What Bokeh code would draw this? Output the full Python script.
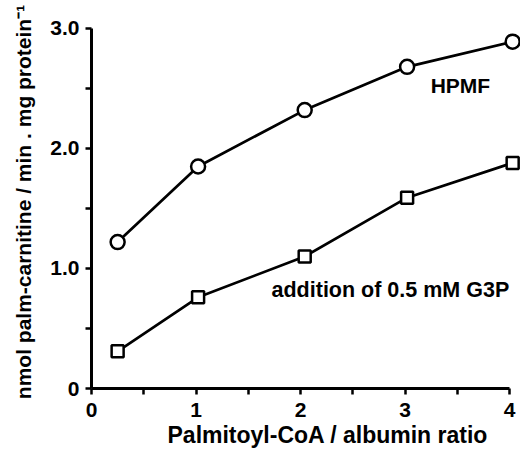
from bokeh.plotting import figure
from bokeh.models import FixedTicker, Range1d, Title
from bokeh.core.properties import value
from bokeh.embed import file_html
from bokeh.resources import INLINE

# Palmitoyl-CoA / albumin ratio
ratio = [0.25, 1.02, 2.04, 3.02, 4.03]
# Palmitoyl-carnitine formation (nmol / min . mg protein)
hpmf = [1.22, 1.85, 2.32, 2.68, 2.89]
hpmf_g3p = [0.31, 0.76, 1.10, 1.59, 1.88]

x_ticks = [0, 1, 2, 3, 4]
x_minor = [0.5, 1.5, 2.5, 3.5]
y_ticks = [0, 1, 2, 3]
y_minor = [0.5, 1.5, 2.5]
y_tick_labels = {0: "0", 1: "1.0", 2: "2.0", 3: "3.0"}

FONT = "Liberation Sans"

p = figure(width=520, height=450, output_backend="svg", toolbar_location=None,
           x_range=Range1d(0, 4.105), y_range=Range1d(0, 3.108),
           min_border_left=91, min_border_right=0, min_border_top=15,
           min_border_bottom=62)
p.outline_line_color = None
p.grid.visible = False
p.background_fill_color = "white"
p.border_fill_color = "white"

for ax in (p.xaxis[0], p.yaxis[0]):
    ax.axis_line_width = 3
    ax.axis_line_color = "black"
    ax.major_tick_line_width = 2.5
    ax.minor_tick_line_width = 2.5
    ax.major_tick_in = 0
    ax.major_tick_out = 6
    ax.minor_tick_in = 0
    ax.minor_tick_out = 6
    ax.major_label_text_font = FONT
    ax.major_label_text_font_style = "bold"
    ax.major_label_text_font_size = "21px"
    ax.major_label_text_color = "black"
    ax.axis_label_text_font = FONT
    ax.axis_label_text_font_style = "bold"
    ax.axis_label_text_color = "black"

p.xaxis.ticker = FixedTicker(ticks=x_ticks, minor_ticks=x_minor)
p.xaxis.bounds = (0, 4.0)
p.xaxis.major_label_standoff = 8
p.xaxis.axis_label_standoff = 0

p.yaxis.ticker = FixedTicker(ticks=y_ticks, minor_ticks=y_minor)
p.yaxis.major_label_overrides = y_tick_labels
p.yaxis.bounds = (0, 3.0)
p.yaxis.major_label_standoff = 6
p.yaxis.axis_label = "nmol palm-carnitine / min . mg protein\u207b\u00b9"
p.yaxis.axis_label_text_font_size = "21px"
p.yaxis.axis_label_standoff = 12

# x-axis title, set a little right of the axis centre
p.add_layout(Title(text="Palmitoyl-CoA / albumin ratio", align="left",
                   offset=76, standoff=0, text_font=FONT,
                   text_font_style="bold", text_font_size="23px",
                   text_color="black"), "below")

# HPMF alone
p.line(ratio, hpmf, line_color="black", line_width=2.7)
p.scatter(ratio, hpmf, marker="circle", size=14, fill_color="white",
          line_color="black", line_width=2.5)

# with glycerol-3-phosphate
p.line(ratio, hpmf_g3p, line_color="black", line_width=2.7)
p.scatter(ratio, hpmf_g3p, marker="square", size=12, fill_color="white",
          line_color="black", line_width=2.5)

p.text(x=[3.53], y=[2.525], text=["HPMF"], text_font=value(FONT),
       text_font_style="bold", text_font_size="21px", text_align="center",
       text_baseline="middle", text_color="black")
p.text(x=[2.86], y=[0.82], text=["addition of 0.5 mM G3P"], text_font=value(FONT),
       text_font_style="bold", text_font_size="21.5px", text_align="center",
       text_baseline="middle", text_color="black")

open("out.html", "w").write(file_html(p, INLINE))
